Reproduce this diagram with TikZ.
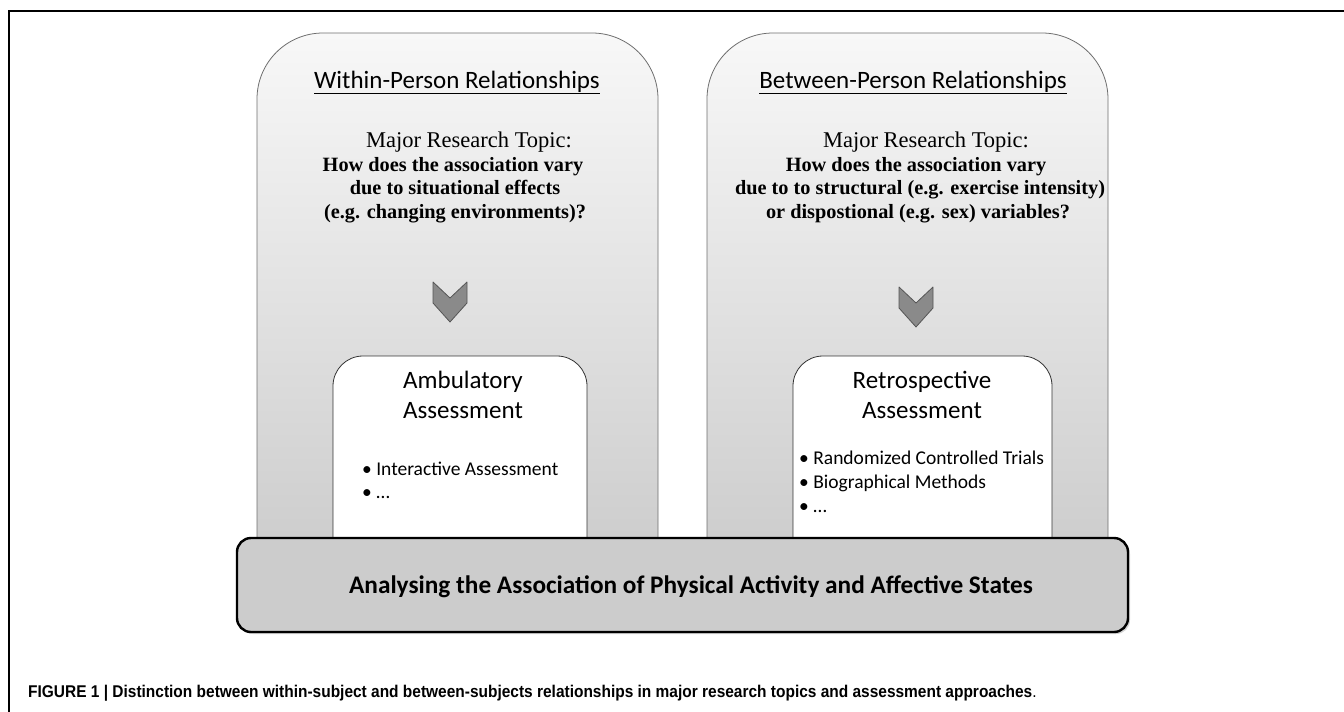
\documentclass[tikz,border=0pt]{standalone}
\usepackage{fontspec}
\usepackage{graphicx}
\setmainfont{Carlito}
\newfontfamily\serifx{Liberation Serif}
\newfontfamily\capfont{Liberation Sans}
\usetikzlibrary{shadows}
\definecolor{cardtop}{HTML}{F8F8F8}
\definecolor{cardbot}{HTML}{CCCCCC}
\definecolor{cardline}{HTML}{6E6E6E}
\definecolor{chevfill}{HTML}{8A8A8A}
\definecolor{chevline}{HTML}{555555}
\definecolor{barfill}{HTML}{CCCCCC}
\definecolor{boxline}{HTML}{333333}
\tikzset{
  card/.style={draw=cardline, line width=0.8pt, top color=cardtop, bottom color=cardbot},
  chev/.style={draw=chevline, line width=0.8pt, fill=chevfill, line join=round},
  inbox/.style={draw=boxline, line width=0.8pt, fill=white},
  bar/.style={draw=black, line width=2.4pt, fill=barfill, rounded corners=14pt,
    drop shadow={shadow xshift=2pt, shadow yshift=-2pt, opacity=0.35}},
  head/.style={font=\fontsize{25}{30}\selectfont, anchor=base, inner sep=0pt},
  topic/.style={font=\serifx\fontsize{22.5}{24}\selectfont, anchor=base, inner sep=0pt},
  topicb/.style={font=\serifx\bfseries\fontsize{20.3}{24}\selectfont, anchor=base, inner sep=0pt},
  boxtitle/.style={font=\fontsize{25}{30}\selectfont, anchor=base, inner sep=0pt},
  bullet/.style={font=\fontsize{19.5}{24}\selectfont, anchor=base west, inner sep=0pt},
  bartext/.style={font=\bfseries\fontsize{25.3}{30}\selectfont, anchor=base, inner sep=0pt},
  captext/.style={font=\capfont\fontsize{17}{20}\selectfont, anchor=base west, inner sep=0pt},
}
\begin{document}
\begin{tikzpicture}[x=1pt,y=-1pt]
\useasboundingbox (0,0) rectangle (1344,712);
% frame
\draw[line width=1.2pt] (9,712) -- (9,11) -- (1344,11);
% cards
\path[card] (257,560) -- (257,99) arc[start angle=180,end angle=270,radius=66]
  -- (592,33) arc[start angle=270,end angle=360,radius=66] -- (658,560) -- cycle;
\path[card] (707,560) -- (707,99) arc[start angle=180,end angle=270,radius=66]
  -- (1042,33) arc[start angle=270,end angle=360,radius=66] -- (1108,560) -- cycle;
% headers
\node[head] (h1) at (457,88) {\underline{Within-Person Relationships}};
\node[head] (h2) at (913,88) {\underline{Between-Person Relationships}};
% topics left
\node[topic] (t1a) at (469,147) {Major Research Topic:};
\node[topicb] (t1b) at (453,171) {How does the association vary};
\node[topicb] (t1c) at (455,194.5) {due to situational effects};
\node[topicb] (t1d) at (455,218) {(e.g. changing environments)?};
% topics right
\node[topic] (t2a) at (926,147) {Major Research Topic:};
\node[topicb] (t2b) at (916,171) {How does the association vary};
\node[topicb] (t2c) at (920,194.5) {due to to structural (e.g. exercise intensity)};
\node[topicb] (t2d) at (918,218) {or dispostional (e.g. sex) variables?};
% chevrons
\path[chev] (433,282) -- (450,298) -- (467,282) -- (467,303) -- (450,322) -- (433,303) -- cycle;
\path[chev] (899,287) -- (916,303) -- (933,287) -- (933,308) -- (916,327) -- (899,308) -- cycle;
% inner boxes
\path[inbox] (333,545) -- (333,386) arc[start angle=180,end angle=270,radius=30]
  -- (557,356) arc[start angle=270,end angle=360,radius=30] -- (587,545) -- cycle;
\path[inbox] (793,545) -- (793,386) arc[start angle=180,end angle=270,radius=30]
  -- (1022,356) arc[start angle=270,end angle=360,radius=30] -- (1052,545) -- cycle;
\node[boxtitle] (a1) at (463,388) {Ambulatory};
\node[boxtitle] (a2) at (463,418) {Assessment};
\node[bullet] (a3) at (362,475) {• Interactive Assessment};
\node[bullet] (a4) at (362,498) {• …};
\node[boxtitle] (r1) at (922,388) {Retrospective};
\node[boxtitle] (r2) at (922,418) {Assessment};
\node[bullet] (r3) at (799,464) {• Randomized Controlled Trials};
\node[bullet] (r4) at (799,488) {• Biographical Methods};
\node[bullet] (r5) at (799,512) {• …};
% bottom bar
\path[bar] (237,538) rectangle (1128,632);
\node[bartext] (b1) at (691,593) {Analysing the Association of Physical Activity and Affective States};
% caption
\node[captext] (cap) at (28,697) {\scalebox{0.91}[1]{\textbf{FIGURE 1 | Distinction between within-subject and between-subjects relationships in major research topics and assessment approaches}.}};
\end{tikzpicture}
\end{document}
